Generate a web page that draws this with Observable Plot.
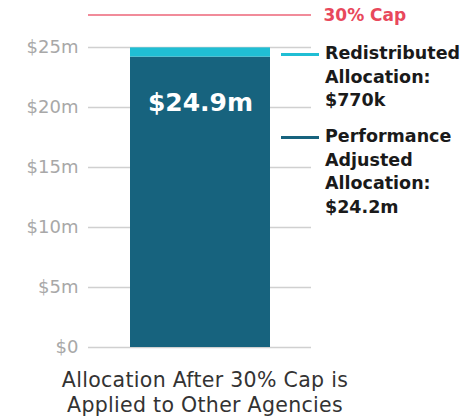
<!DOCTYPE html>
<html><head><meta charset="utf-8">
<script src="https://cdn.jsdelivr.net/npm/d3@7"></script>
<script src="https://cdn.jsdelivr.net/npm/@observablehq/plot@0.6"></script>
<style>
body{margin:0;background:#fff;font-family:"DejaVu Sans", sans-serif;}
#wrap{position:relative;width:471px;height:419px;overflow:hidden;}
#wrap svg{position:absolute;left:0;top:0;}
.leg{position:absolute;left:281px;}
.leg .sw{position:absolute;left:0;width:38px;height:3px;}
.leg .tx{position:absolute;left:44px;font-size:17.5px;font-weight:700;color:#1a1a1a;line-height:23.5px;white-space:nowrap;}
#caption{position:absolute;left:0;width:410px;top:368px;text-align:center;font-size:20.5px;letter-spacing:0.3px;line-height:25px;color:#333;}
</style></head><body><div id="wrap"></div>
<script>
const category = ["Allocation After 30% Cap is Applied to Other Agencies"];
const seriesNames = ["Performance Adjusted Allocation", "Redistributed Allocation"];
const seriesValues = [24.2, 0.77];
const seriesColors = ["#17637e", "#20bed4"];
const totalLabel = "$24.9m";
const capValue = 27.7;
const capLabel = "30% Cap";
const yTicks = [0, 5, 10, 15, 20, 25];
const legendLines = [["Redistributed", "Allocation:", "$770k"], ["Performance", "Adjusted", "Allocation:", "$24.2m"]];
const legendSeriesIndex = [1, 0];
const captionLines = ["Allocation After 30% Cap is", "Applied to Other Agencies"];

const data = seriesNames.map((s, i) => ({cat: category[0], series: s, value: seriesValues[i]}));
const total = d3.sum(seriesValues);

const chart = Plot.plot({
  width: 471, height: 360,
  marginLeft: 88, marginRight: 160, marginTop: 11, marginBottom: 13,
  style: {fontFamily: "'DejaVu Sans', sans-serif", background: "transparent"},
  x: {type: "band", domain: category, padding: 0.2286, axis: null},
  y: {domain: [0, 28], axis: null},
  color: {domain: seriesNames, range: seriesColors},
  marks: [
    Plot.ruleY(yTicks, {stroke: "#d0d0d0", strokeWidth: 1.5}),
    Plot.axisY(yTicks, {label: null, tickSize: 0, tickPadding: 10, tickFormat: d => d === 0 ? "$0" : `$${d}m`, color: "#a8a8a8", fill: "#a8a8a8", fontSize: 18}),
    Plot.ruleY([capValue], {stroke: "#ec6579", strokeWidth: 1.5}),
    Plot.text([capValue], {y: d => d, text: () => capLabel, frameAnchor: "right", textAnchor: "start", dx: 12, fill: "#e8485c", fontSize: 17, fontWeight: 700}),
    Plot.barY(data, {x: "cat", y: "value", fill: "series"}),
    Plot.text([total], {x: () => category[0], y: d => d, text: () => totalLabel, dy: 55, fill: "white", fontSize: 25, fontWeight: 700})
  ]
});
const wrap = document.getElementById("wrap");
wrap.appendChild(chart);

const legTops = [42, 125];
legendLines.forEach((lines, k) => {
  const it = document.createElement("div");
  it.className = "leg";
  it.style.top = legTops[k] + "px";
  const sw = document.createElement("div");
  sw.className = "sw";
  sw.style.top = "10.5px";
  sw.style.background = seriesColors[legendSeriesIndex[k]];
  const tx = document.createElement("div");
  tx.className = "tx";
  tx.style.top = "0px";
  tx.innerHTML = lines.join("<br>");
  it.appendChild(sw); it.appendChild(tx);
  wrap.appendChild(it);
});
const cap = document.createElement("div");
cap.id = "caption";
cap.innerHTML = captionLines.join("<br>");
wrap.appendChild(cap);
</script></body></html>
